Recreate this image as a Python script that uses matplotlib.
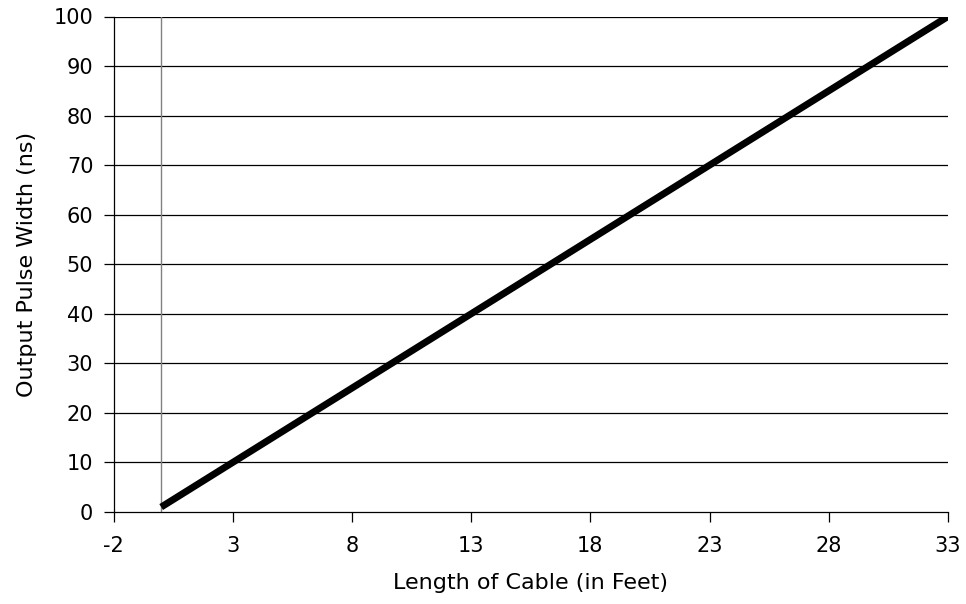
import matplotlib.pyplot as plt

plt.rcParams['font.family'] = ['DejaVu Sans']

cable_ft = [0, 3, 8, 13, 18, 23, 28, 33]
pulse_ns = [1, 10, 25, 40, 55, 70, 85, 100]
x_ticks = [-2, 3, 8, 13, 18, 23, 28, 33]
x_labels = ['-2', '3', '8', '13', '18', '23', '28', '33']
y_ticks = list(range(0, 101, 10))

fig = plt.figure(figsize=(9.66, 6.04), dpi=100)
ax = fig.add_axes([113.5 / 966, 1 - 512 / 604, (948 - 113.5) / 966, (512 - 16.5) / 604])

ax.set_xlim(-2, 33)
ax.set_ylim(0, 100)
ax.set_xticks(x_ticks)
ax.set_xticklabels(x_labels)
ax.set_yticks(y_ticks)

# horizontal gridlines
for y in y_ticks[1:]:
    ax.axhline(y, color='black', linewidth=0.9, zorder=1)
ax.axvline(0, color='#808080', linewidth=1.0, zorder=1)

ax.plot(cable_ft, pulse_ns, color='black', linewidth=5,
        solid_capstyle='butt', zorder=3)

for side in ['top', 'right']:
    ax.spines[side].set_visible(False)
ax.spines['left'].set_linewidth(0.9)
ax.spines['bottom'].set_linewidth(0.9)
ax.tick_params(axis='both', direction='out', length=7.5, width=0.9,
               labelsize=15, pad=8)
ax.tick_params(axis='x', pad=10)
ax.tick_params(axis='y', pad=7)

ax.set_xlabel('Length of Cable (in Feet)', fontsize=16, labelpad=12)
ax.set_ylabel('Output Pulse Width (ns)', fontsize=16, labelpad=12)

fig.savefig('out.png', dpi=100)
